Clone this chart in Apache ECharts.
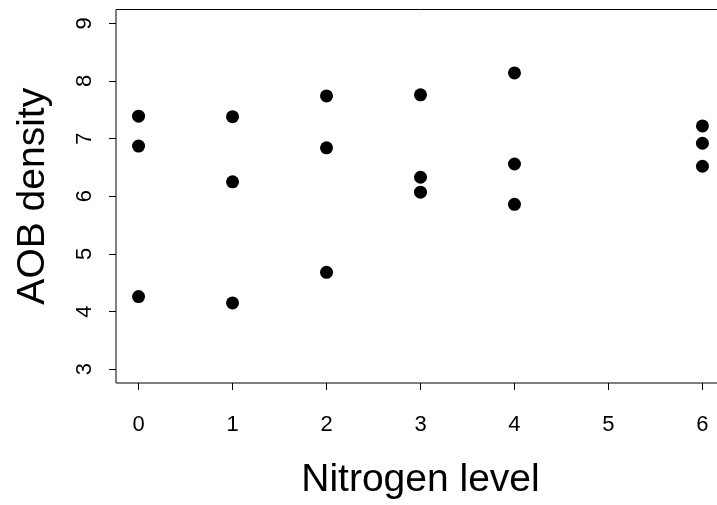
<!DOCTYPE html>
<html>
<head>
<meta charset="utf-8">
<script src="https://cdn.jsdelivr.net/npm/echarts@6/dist/echarts.min.js"></script>
<style>
html,body{margin:0;padding:0;background:#fff;overflow:hidden;}
#chart{width:725px;height:505px;}
</style>
</head>
<body>
<div id="chart"></div>
<script>
// Nitrogen level for each observation
const nitrogen = [0,0,0, 1,1,1, 2,2,2, 3,3,3, 4,4,4, 6,6,6];
// AOB density for each observation
const density = [7.39,6.87,4.26, 7.38,6.25,4.15, 7.74,6.84,4.68, 7.76,6.33,6.07, 8.14,6.56,5.86, 7.22,6.92,6.52];
const xTicks = [0,1,2,3,4,5,6];
const yTicks = [3,4,5,6,7,8,9];

const points = nitrogen.map((n, i) => [n, density[i]]);
const FONT = '"Liberation Sans", Arial, Helvetica, sans-serif';

const chart = echarts.init(document.getElementById('chart'), null, {renderer: 'canvas'});
chart.setOption({
  animation: false,
  backgroundColor: '#fff',
  grid: {
    left: 116, right: 0, top: 9.5, bottom: 120,
    show: true, borderColor: '#000', borderWidth: 1, backgroundColor: 'transparent'
  },
  xAxis: {
    type: 'value', min: -0.24, max: 6.24,
    name: 'Nitrogen level', nameLocation: 'middle', nameGap: 78,
    nameTextStyle: {fontSize: 39, color: '#000', fontFamily: FONT},
    axisLine: {show: false, onZero: false},
    splitLine: {show: false},
    axisTick: {show: true, customValues: xTicks, length: 7, lineStyle: {color: '#000', width: 1}},
    axisLabel: {customValues: xTicks, fontSize: 22, color: '#000', fontFamily: FONT, margin: 31}
  },
  yAxis: {
    type: 'value', min: 2.76, max: 9.24,
    name: 'AOB density', nameLocation: 'middle', nameGap: 63,
    nameTextStyle: {fontSize: 39, color: '#000', fontFamily: FONT},
    axisLine: {show: false, onZero: false},
    splitLine: {show: false},
    axisTick: {show: true, customValues: yTicks, length: 7, lineStyle: {color: '#000', width: 1}},
    axisLabel: {customValues: yTicks, rotate: 90, fontSize: 22, color: '#000', fontFamily: FONT, margin: 20}
  },
  series: [{
    type: 'scatter',
    data: points,
    symbol: 'circle',
    symbolSize: 13,
    itemStyle: {color: '#000', opacity: 1}
  }]
});
</script>
</body>
</html>
